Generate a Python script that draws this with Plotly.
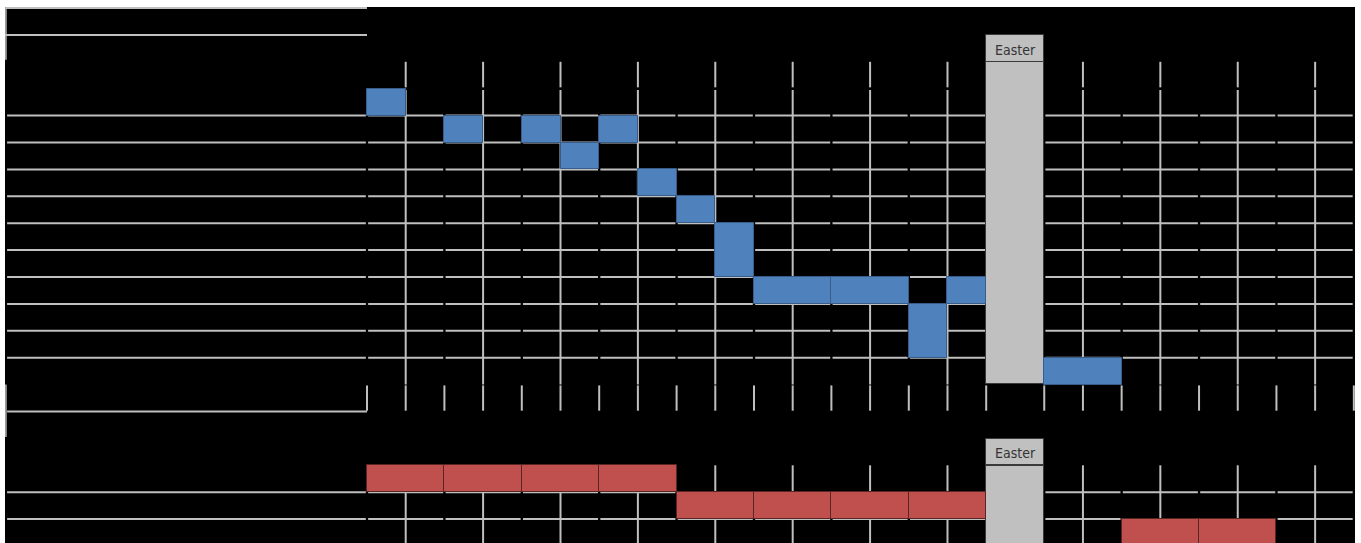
import plotly.graph_objects as go

# ---------------- data (x in half-week slots, y in table rows) ----------------
# Week columns: 8 weeks before Easter, Easter break (1.5 slots wide), 4 weeks after
week_edges_before = [0, 2, 4, 6, 8, 10, 12, 14, 16]
easter_start = 16
easter_end = 17.5
week_edges_after = [17.5, 19.5, 21.5, 23.5, 25.5]
week_mids = [1, 3, 5, 7, 9, 11, 13, 15, 18.5, 20.5, 22.5, 24.5]
day_ticks = [0, 1, 2, 3, 4, 5, 6, 7, 8, 9, 10, 11, 12, 13, 14, 15, 16,
             17.5, 18.5, 19.5, 20.5, 21.5, 22.5, 23.5, 24.5, 25.5]
label_col_left = -9.3

# Top schedule (blue tasks)
blue_row = [3, 4, 4, 5, 4, 6, 7, 8, 10, 10, 11, 10, 13]
blue_rows_spanned = [1, 1, 1, 1, 1, 1, 1, 2, 1, 1, 2, 1, 1]
blue_start = [0, 2, 4, 5, 6, 7, 8, 9, 10, 12, 14, 15, 17.5]
blue_end = [1, 3, 5, 6, 7, 8, 9, 10, 12, 14, 15, 16, 19.5]

# Bottom schedule (red tasks)
red_row = [17, 17, 17, 17, 18, 18, 18, 18, 19, 19]
red_start = [0, 2, 4, 6, 8, 10, 12, 14, 19.5, 21.5]
red_end = [2, 4, 6, 8, 10, 12, 14, 16, 21.5, 23.5]

# table structure rows
top_header_rows = [0, 1]          # header lines in the label column
top_grid_rows = [4, 5, 6, 7, 8, 9, 10, 11, 12, 13]
top_body = (2, 14)                # rows covered by top schedule body
tick_row = 14
bottom_grid_rows = [18, 19]
bottom_body = (17, 20.5)
easter_header_rows = [1, 16]
easter_label = "Easter"

# ---------------- styling ----------------
GRID = "#bfbfbf"
BLUE = "#4f81bd"
BLUE_EDGE = "#385d8a"
RED = "#c0504d"
RED_EDGE = "#5a2624"
SILVER = "#c0c0c0"
EDGE = "#3a3a3a"

fig = go.Figure()
shapes = []

def hline(y, x0, x1, w=2):
    shapes.append(dict(type="line", xref="x", yref="y", x0=x0, x1=x1, y0=y, y1=y,
                       line=dict(color=GRID, width=w), layer="below"))

def vline(x, y0, y1, w=2):
    shapes.append(dict(type="line", xref="x", yref="y", x0=x, x1=x, y0=y0, y1=y1,
                       line=dict(color=GRID, width=w), layer="below"))

gap = 0.03
week_spans = list(zip(week_edges_before[:-1], week_edges_before[1:])) + \
             list(zip(week_edges_after[:-1], week_edges_after[1:]))

# horizontal grid lines through label column and week cells
for r in top_grid_rows + bottom_grid_rows:
    hline(r, label_col_left, -gap)
    for a, b in week_spans:
        hline(r, a + gap, b - gap)

# header lines in label column
for r in top_header_rows:
    hline(r, label_col_left - 0.05, 0)
vline(label_col_left - 0.03, top_header_rows[0], 2 - 0.08, w=1.5)

# tick row under the top schedule
hline(tick_row + 1, label_col_left, 0)
vline(label_col_left - 0.03, tick_row, tick_row + 2 - 0.05, w=1.5)
for t in day_ticks:
    vline(t, tick_row + 0.03, tick_row + 0.97)

# mid-week vertical grid lines
for m in week_mids:
    vline(m, top_body[0], top_body[0] + 0.95)
    vline(m, top_body[0] + 1.05, top_body[1])
    vline(m, bottom_body[0], bottom_body[1])

fig.update_layout(shapes=shapes)

# Easter break blocks
for hr, body in zip(easter_header_rows, [top_body, bottom_body]):
    fig.add_trace(go.Bar(orientation="h", y=[hr + 0.5], x=[easter_end - easter_start],
                         base=[easter_start], width=[0.98],
                         marker=dict(color=SILVER, line=dict(color=EDGE, width=1)),
                         hoverinfo="skip", showlegend=False))
    fig.add_trace(go.Bar(orientation="h", y=[(body[0] + body[1]) / 2], x=[easter_end - easter_start],
                         base=[easter_start], width=[body[1] - body[0] - 0.02],
                         marker=dict(color=SILVER, line=dict(color=EDGE, width=1)),
                         hoverinfo="skip", showlegend=False))
    fig.add_annotation(x=(easter_start + easter_end) / 2, y=hr + 0.55, text=easter_label,
                       showarrow=False, xref="x", yref="y",
                       font=dict(family="DejaVu Sans Condensed, Liberation Sans, sans-serif",
                                 size=14, color="#333333"))

# blue tasks
fig.add_trace(go.Bar(orientation="h",
                     y=[r + s / 2 for r, s in zip(blue_row, blue_rows_spanned)],
                     x=[e - s for s, e in zip(blue_start, blue_end)],
                     base=blue_start, width=blue_rows_spanned,
                     marker=dict(color=BLUE, line=dict(color=BLUE_EDGE, width=1)),
                     hoverinfo="skip", showlegend=False))

# red tasks
fig.add_trace(go.Bar(orientation="h",
                     y=[r + 0.5 for r in red_row],
                     x=[e - s for s, e in zip(red_start, red_end)],
                     base=red_start, width=[1] * len(red_row),
                     marker=dict(color=RED, line=dict(color=RED_EDGE, width=1)),
                     hoverinfo="skip", showlegend=False))

fig.update_layout(
    width=1361, height=543,
    margin=dict(l=5, r=6, t=7, b=0),
    paper_bgcolor="white", plot_bgcolor="black",
    barmode="overlay", bargap=0,
    xaxis=dict(range=[-9.354, 25.53], visible=False, showgrid=False, zeroline=False),
    yaxis=dict(range=[19.888, -0.037], visible=False, showgrid=False, zeroline=False),
)

fig.write_html("out.html")
